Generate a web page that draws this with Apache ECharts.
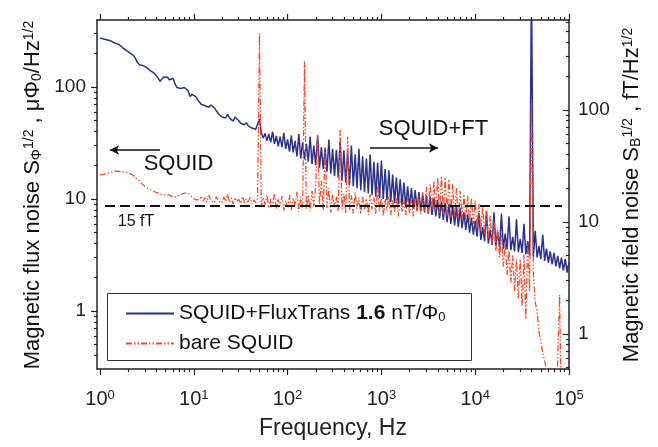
<!DOCTYPE html>
<html><head><meta charset="utf-8">
<script src="https://cdn.jsdelivr.net/npm/echarts@6/dist/echarts.min.js"></script>
<style>html,body{margin:0;padding:0;background:#fff}#c{width:658px;height:447px}</style>
</head><body><div id="c"></div>
<script>
// ---- data (frequency grid in Hz, noise values) ----
const freqHz = [
 1,1.047,1.096,1.148,1.202,1.259,1.318,1.38,1.445,1.514,1.585,1.66,1.738,1.82,1.905,1.995,2.089,2.188,2.291,2.399,2.512,2.63,2.754,2.884,3.02,3.162,3.311,3.467,3.631,3.802,3.981,4.169,4.365,4.571,4.786,5.012,5.248,5.495,5.754,6.026,6.31,6.607,6.918,7.244,7.586,7.943,8.318,8.71,9.12,9.55,
 10,10.47,10.96,11.48,12.02,12.59,13.18,13.8,14.45,15.14,15.85,16.6,17.38,18.2,19.05,19.95,20.89,21.88,22.91,23.99,25.12,26.3,27.54,28.84,30.2,31.62,33.11,34.67,36.31,38.02,39.81,41.69,43.65,45.71,47.86,50.12,52.48,54.95,57.54,60.26,63.1,66.07,69.18,72.44,75.86,79.43,83.18,87.1,91.2,95.5,
 100,104.7,109.6,114.8,120.2,125.9,131.8,138,144.5,151.4,158.5,166,173.8,182,190.5,199.5,208.9,218.8,229.1,239.9,251.2,263,275.4,288.4,302,316.2,331.1,346.7,363.1,380.2,398.1,416.9,436.5,457.1,478.6,501.2,524.8,549.5,575.4,602.6,631,660.7,691.8,724.4,758.6,794.3,831.8,871,912,955,
 1000,1047,1096,1148,1202,1259,1318,1380,1445,1514,1585,1660,1738,1820,1905,1995,2089,2188,2291,2399,2512,2630,2754,2884,3020,3162,3311,3467,3631,3802,3981,4169,4365,4571,4786,5012,5248,5495,5754,6026,6310,6607,6918,7244,7586,7943,8318,8710,9120,9550,
 10000,10470,10960,11480,12020,12590,13180,13800,14450,15140,15850,16600,17380,18200,19050,19950,20890,21880,22910,23990,25120,26300,27540,28840,30200,31620,33110,34670,36310,38020,39810,41690,43650,45710,47860,50120,52480,54950,57540,60260,63100,66070,69180,72440,75860,79430,83180,87100,91200,95500,
 100000
];
// SQUID + flux transformer, μΦ0/Hz^1/2
const fluxTransNoise = [
 274,270,268,267,263,260,257,252,247,242,
 240,235,225,216,212,207,201,197,191,178,
 165,158,157,155,154,149,146,139,135,132,
 128,120,112,118,123,125,122,116,117,119,
 106,99,100,97,94,99,96,92,82,86,
 87,82,77,74,70,72,68,70,66,69,
 71,65,63,58,57,54,56,53,57,53,
 52,49.5,54,52,50,47.5,49,46,48,45,
 46,43,44.5,42,43.5,52,
 39,35,38.5,33,38,32,40,31,36.5,29.5,
 36,29,39,28,34,26.5,37,26,33,24,
 38,23,32,22.5,31,21.5,36,20.5,30,20,
 37,19,29,18.5,28.5,17.5,34,16.8,28,16,
 27.5,15.5,33,14.5,27,14,26,13.3,30,13,
 25,12.5,28,12,24,11.5,23,11.2,25,10.8,
 21.5,10.5,21,10.2,22,10,18.5,9.7,18,9.4,
 16.5,9.2,15.5,9.0,15,8.8,14,8.6,13,8.4,
 12.5,8.2,12,8.0,11.5,7.8,11,7.6,10.8,7.4,
 10.5,7.2,10.2,7.0,9.8,6.7,9.5,6.5,9.2,6.2,
 9.0,6.0,8.8,5.8,8.5,5.6,8.3,5.5,7.6,5.3,
 7.3,5.0,6.8,4.8,6.4,4.6,7.5,4.3,5.6,4.2,
 7.8,4.0,5.3,3.9,7.6,3.8,5.1,3.7,7.4,3.6,
 4.9,3.55,7.0,3.5,4.6,3.4,6.6,3.35,4.4,3.3,
 6.0,3.2,4.2,3.1,1000,3.05,5.2,3.0,3.8,2.9,
 4.8,2.8,3.6,2.7,3.4,2.6,3.3,2.5,3.1,2.4,
 3.0,2.3,2.9,2.2,2.7
];
// bare SQUID, μΦ0/Hz^1/2
const bareSquidNoise = [
 16.4,16.4,16.6,16.8,17.0,17.2,17.4,17.5,17.7,17.7,
 17.6,17.5,17.5,17.3,17.2,17.1,16.9,16.6,16.1,15.4,
 14.9,14.5,13.9,13.3,12.9,12.6,12.5,12.1,11.9,11.6,
 11.5,11.3,11.0,10.9,10.9,10.9,10.9,10.9,10.5,10.3,
 10.2,10.6,11.0,10.9,11.1,11.3,11.5,11.3,10.9,10.4,
 10.2,9.8,9.5,9.9,10.6,9.6,10.3,9.4,10.8,9.7,
 10.1,9.3,10.5,9.6,10.0,9.2,10.4,9.5,11.0,9.4,
 10.2,9.0,10.3,9.5,9.9,9.1,10.5,9.3,10.0,9.2,
 10.4,9.0,9.8,9.3,10.1,300,
 8.6,10.3,8.9,10.8,8.3,10.0,9.0,11.2,8.1,9.9,
 8.7,10.6,7.9,9.6,8.5,10.9,8.0,10.2,8.8,11.5,
 7.7,10.4,8.4,170,8.2,10.8,7.8,11.8,8.6,13.5,
 37,9.0,14.5,8.0,29,8.3,12.5,7.6,11.0,8.4,
 10.5,7.8,42,8.1,11.2,7.5,36,8.0,10.8,7.4,
 11.5,8.2,10.3,7.3,10.6,7.9,10.1,7.2,11.0,8.1,
 10.4,7.4,13,7.8,10.5,7.1,10.0,7.9,10.7,7.2,
 9.8,7.6,10.3,7.0,10.1,7.7,9.9,7.2,10.4,7.5,
 9.7,7.0,10.2,7.6,10.6,7.3,11.5,7.8,12.8,7.4,
 13.5,8.0,14.5,7.6,15.5,7.5,16,7.3,15.5,7.1,
 15,6.9,13.5,7.0,12.5,6.8,11.8,6.6,11.0,6.4,
 10.6,6.2,10.2,6.0,9.7,5.6,9.0,5.2,8.6,4.9,
 8.0,4.4,7.2,4.0,6.4,3.4,5.6,3.0,4.8,2.5,
 4.1,2.1,3.6,1.8,3.2,1.5,2.9,1.3,2.9,1.1,
 3.2,0.85,4.0,1.5,76,2.2,1.2,1.0,0.65,0.55,
 0.42,0.36,0.3,0.25,0.2,0.15,0.12,0.1,0.1,1.39,
 0.1,0.1,0.1,0.1,0.1
];
const seriesNames = ['SQUID+FluxTrans 1.6 nT/Φ0', 'bare SQUID'];
const xTickExponents = [0, 1, 2, 3, 4, 5];
const yTickValues = [1, 10, 100];
const fieldPerFlux = 1.6;      // fT per μΦ0 (right axis scale)
const refLevelFlux = 8.75;     // the "15 fT" reference level, in μΦ0/Hz^1/2

// ---- chart ----
const FONT = "'Liberation Sans', Arial, Helvetica, sans-serif";
const lg = Math.log10;
const xMin = -0.032, xMax = 5;
const yMin = -0.518, yMax = 2.598;
const yShift = lg(fieldPerFlux);
function minorLogs(lo, hi) {
  const out = [];
  for (let e = -1; e <= 5; e++) for (let m = 2; m <= 9; m++) {
    const v = e + lg(m); if (v > lo && v < hi) out.push(v);
  }
  return out;
}
const xMajor = xTickExponents.slice();
const xMinor = minorLogs(xMin, xMax);
const yMajor = yTickValues.map(lg);
const yMinorL = minorLogs(yMin, yMax);
const yMinorR = minorLogs(yMin + yShift, yMax + yShift);
const AX = '#222';
const lineSt = {color: AX, width: 1.5};
const tickSt = {color: AX, width: 1.2};

function xAx(pos, vals, len, showLine, labels) {
  return {type: 'value', gridIndex: 0, position: pos, min: xMin, max: xMax,
    axisLine: {show: showLine, onZero: false, lineStyle: lineSt},
    axisTick: {show: true, inside: false, length: len, customValues: vals, lineStyle: tickSt},
    axisLabel: labels || {show: false},
    splitLine: {show: false}};
}
function yAx(pos, vals, len, showLine, labels, shift, inside) {
  return {type: 'value', gridIndex: 0, position: pos, min: yMin + shift, max: yMax + shift,
    axisLine: {show: showLine, onZero: false, lineStyle: lineSt},
    axisTick: {show: true, inside: inside, length: len, customValues: vals, lineStyle: tickSt},
    axisLabel: labels || {show: false},
    splitLine: {show: false}};
}
const xLab = {show: true, customValues: xMajor, margin: 20, fontSize: 20, color: AX, fontFamily: FONT,
  formatter: v => '10{sup|' + Math.round(v) + '}',
  rich: {sup: {fontSize: 13, fontFamily: FONT, color: AX, verticalAlign: 'top'}}};
const yLabL = {show: true, customValues: yMajor, margin: 11, fontSize: 19, color: AX, fontFamily: FONT,
  formatter: v => String(Math.round(Math.pow(10, v)))};
const yLabR = {show: true, customValues: yMajor, margin: 9, fontSize: 19, color: AX, fontFamily: FONT,
  formatter: v => String(Math.round(Math.pow(10, v)))};

const xAxes = [
  Object.assign(xAx('bottom', xMajor, 6, true, xLab), {name: 'Frequency, Hz', nameLocation: 'middle', nameGap: 48,
    nameTextStyle: {fontSize: 23, color: AX, fontFamily: FONT}}),
  xAx('bottom', xMinor, 3, false),
  xAx('top', xMajor, 6, true),
  xAx('top', xMinor, 3, false)
];
const yAxes = [
  yAx('left', yMajor, 6, true, yLabL, 0, false),
  yAx('left', yMinorL, 3, false, null, 0, false),
  yAx('right', yMajor, 6, true, yLabR, yShift, true),
  yAx('right', yMinorR, 3, false, null, yShift, true)
];

const blueData = freqHz.map((f, i) => [lg(f), lg(fluxTransNoise[i])]);
const redData = freqHz.map((f, i) => [lg(f), lg(bareSquidNoise[i])]);

// annotation anchors (log10 Hz, log10 μΦ0)
const refLine = [[0.053, lg(refLevelFlux)], [4.925, lg(refLevelFlux)]];
const arrowSquid = [[0.64, 1.4375], [0.107, 1.4375]];
const arrowFT = [[2.878, 1.455], [3.603, 1.455]];

const rich = {
  sub: {fontSize: 14, fontFamily: FONT, fill: '#111', verticalAlign: 'bottom'},
  sup: {fontSize: 14, fontFamily: FONT, fill: '#111', verticalAlign: 'top'}
};

const option = {
  animation: false,
  backgroundColor: '#fff',
  textStyle: {fontFamily: FONT},
  grid: {left: 97, right: 89, top: 20, bottom: 78, containLabel: false},
  xAxis: xAxes,
  yAxis: yAxes,
  legend: {
    data: seriesNames, orient: 'vertical', left: 120, top: 298, itemWidth: 48, itemHeight: 14, itemGap: 9,
    itemStyle: {opacity: 0, borderWidth: 0},
    textStyle: {fontSize: 21, color: '#111', fontFamily: FONT,
      rich: {b: {fontSize: 21, fontWeight: 'bold', fontFamily: FONT, color: '#111'},
             sub: {fontSize: 13, fontFamily: FONT, color: '#111', verticalAlign: 'bottom'}}},
    formatter: n => n === seriesNames[0] ? 'SQUID+FluxTrans {b|1.6} nT/Φ{sub|0}' : n
  },
  series: [
    {name: seriesNames[0], type: 'line', data: blueData, xAxisIndex: 0, yAxisIndex: 0, symbol: 'none',
      lineStyle: {color: '#2b318f', width: 1.5}, itemStyle: {color: '#2b318f'}, z: 2},
    {name: seriesNames[1], type: 'line', data: redData, xAxisIndex: 0, yAxisIndex: 0, symbol: 'none',
      lineStyle: {color: '#ff4422', width: 1.25, type: [6, 2, 1.5, 2, 1.5, 2]}, itemStyle: {color: '#ff4422'}, z: 3},
    {name: 'annotations', type: 'line', data: [], xAxisIndex: 0, yAxisIndex: 0, z: 5,
      markLine: {silent: true, animation: false, label: {show: false}, symbol: ['none', 'none'],
        data: [
          [{coord: refLine[0], lineStyle: {color: '#111', width: 2, type: [10, 5]}}, {coord: refLine[1]}],
          [{coord: arrowSquid[0], symbol: 'none', lineStyle: {color: '#111', width: 1.5, type: 'solid'}},
           {coord: arrowSquid[1], symbol: 'arrow', symbolSize: [7, 9]}],
          [{coord: arrowFT[0], symbol: 'none', lineStyle: {color: '#111', width: 1.5, type: 'solid'}},
           {coord: arrowFT[1], symbol: 'arrow', symbolSize: [7, 9]}]
        ]}}
  ],
  graphic: [
    {type: 'rect', shape: {x: 107.5, y: 293.5, width: 364, height: 67}, style: {fill: 'none', stroke: '#333', lineWidth: 1}, z: 10},
    {type: 'text', x: 178.5, y: 163.5, style: {text: 'SQUID', fontSize: 22, fontFamily: FONT, fill: '#111', align: 'center', verticalAlign: 'middle'}, z: 10},
    {type: 'text', x: 433.5, y: 128.5, style: {text: 'SQUID+FT', fontSize: 22, fontFamily: FONT, fill: '#111', align: 'center', verticalAlign: 'middle'}, z: 10},
    {type: 'text', x: 136, y: 222, style: {text: '15 fT', fontSize: 16, fontFamily: FONT, fill: '#111', align: 'center', verticalAlign: 'middle'}, z: 10},
    {type: 'text', x: 33, y: 195, rotation: Math.PI / 2,
      style: {text: 'Magnetic flux noise S{sub|Φ}{sup|1/2} , μΦ{sub|0}/Hz{sup|1/2}', fontSize: 22, fontFamily: FONT, fill: '#111',
        align: 'center', verticalAlign: 'middle', rich: rich}, z: 10},
    {type: 'text', x: 632, y: 195, rotation: Math.PI / 2,
      style: {text: 'Magnetic field noise S{sub|B}{sup|1/2} , fT/Hz{sup|1/2}', fontSize: 22, fontFamily: FONT, fill: '#111',
        align: 'center', verticalAlign: 'middle', rich: rich}, z: 10}
  ]
};
const chart = echarts.init(document.getElementById('c'), null, {renderer: 'canvas'});
chart.setOption(option);
</script>
</body></html>
